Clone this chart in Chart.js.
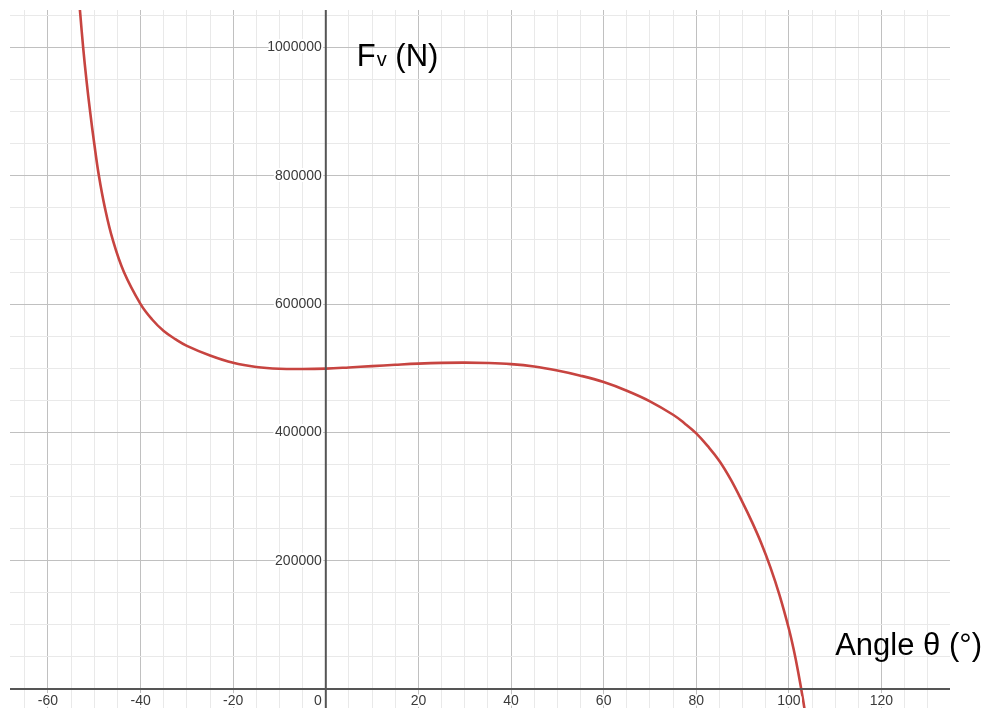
<!DOCTYPE html>
<html>
<head>
<meta charset="utf-8">
<script src="https://cdn.jsdelivr.net/npm/chart.js@4.4.1/dist/chart.umd.min.js"></script>
<style>
  html, body { margin: 0; padding: 0; background: #fff; }
  #wrap { width: 990px; height: 708px; }
</style>
</head>
<body>
<div id="wrap"><canvas id="fv" width="990" height="708"></canvas></div>
<script>
// curve: angle (deg) -> Fv (N)
const angles = [-53.6, -53.0, -52.4, -51.7, -50.9, -50.0, -49.0, -47.7, -46.0, -43.6,
  -40, -37.5, -35, -32.5, -30, -25, -20, -15, -10, -5, 0, 5, 10, 15, 20, 25, 30, 35, 40, 45,
  50, 55, 60, 65, 70, 75, 77.5, 80, 82.5, 85, 87.5, 90, 92, 94, 96, 98, 100, 101, 102, 103, 104];
const forces = [1100000, 1050000, 1000000, 950000, 900000, 850000, 800000, 750000, 700000, 650000,
  600000, 576000, 558000, 545500, 535000, 520000, 508500, 502000, 499200, 498800, 499500, 501300, 503400, 505400, 507200, 508400, 508800, 508200, 506400, 502700,
  496500, 488500, 478500, 465000, 448500, 427500, 414000, 398500, 378500, 355500, 326000, 291000, 261000, 228000, 190000, 146000, 94000, 63000, 27000, -14000, -60000];

const xTickLabels = [-60, -40, -20, 0, 20, 40, 60, 80, 100, 120];
const yTickLabels = [200000, 400000, 600000, 800000, 1000000];

const xRange = [-68.2, 134.8];
const yRange = [-29600, 1058500];
const xMinor = 5, xMajor = 20;
const yMinor = 50000, yMajor = 200000;

const points = angles.map((a, i) => ({ x: a, y: forces[i] }));

function stepTicks(scale, step) {
  const list = [];
  const start = Math.ceil(scale.min / step) * step;
  for (let v = start; v <= scale.max; v += step) list.push({ value: v });
  scale.ticks = list;
}

function gridColor(major) {
  return (ctx) => {
    const v = ctx.tick ? ctx.tick.value : 1;
    if (v === 0) return 'rgba(0,0,0,0)';
    return Math.abs(v % major) < 1e-6 ? '#c0c0c0' : '#e9e9e9';
  };
}

function haloText(c, txt, x, y) {
  c.strokeStyle = '#fff';
  c.lineWidth = 4;
  c.strokeText(txt, x, y);
  c.fillStyle = '#3a3a3a';
  c.fillText(txt, x, y);
}

const axesPlugin = {
  id: 'desmosAxes',
  afterDatasetsDraw(chart) {
    const c = chart.ctx;
    const xs = chart.scales.x, ys = chart.scales.y;
    const area = chart.chartArea;
    const x0 = xs.getPixelForValue(0);
    const y0 = ys.getPixelForValue(0);

    c.save();
    c.strokeStyle = '#555';
    c.lineWidth = 2;
    c.beginPath();
    c.moveTo(x0, area.top); c.lineTo(x0, area.bottom);
    c.moveTo(area.left, y0); c.lineTo(area.right, y0);
    c.stroke();

    c.font = '14px "Liberation Sans", Arial, sans-serif';
    c.lineJoin = 'round';
    c.textBaseline = 'middle';
    xTickLabels.forEach(v => {
      const px = xs.getPixelForValue(v);
      c.textAlign = v === 0 ? 'right' : 'center';
      haloText(c, String(v), v === 0 ? px - 4 : px, y0 + 12);
    });
    c.textAlign = 'right';
    yTickLabels.forEach(v => {
      haloText(c, String(v), x0 - 4, ys.getPixelForValue(v));
    });

    // axis titles
    c.fillStyle = '#000';
    c.textBaseline = 'alphabetic';
    c.textAlign = 'left';
    const big = '31px "Liberation Sans", Arial, sans-serif';
    const small = '20px "Liberation Sans", Arial, sans-serif';
    let tx = x0 + 31;
    const ty = ys.getPixelForValue(1000000) + 18;
    c.font = big; c.fillText('F', tx, ty); tx += c.measureText('F').width + 1;
    c.font = small; c.fillText('v', tx, ty); tx += c.measureText('v').width;
    c.font = big; c.fillText(' (N)', tx, ty);

    c.font = big;
    c.fillText('Angle θ (°)', xs.getPixelForValue(110), y0 - 34);
    c.restore();
  }
};

new Chart(document.getElementById('fv'), {
  type: 'scatter',
  data: {
    datasets: [{
      label: 'Fv',
      data: points,
      showLine: true,
      borderColor: '#c74440',
      borderWidth: 2.6,
      pointRadius: 0,
      tension: 0.4,
      fill: false
    }]
  },
  options: {
    responsive: false,
    animation: false,
    layout: { padding: { left: 10, top: 10, right: 40, bottom: 0 } },
    plugins: { legend: { display: false }, tooltip: { enabled: false } },
    scales: {
      x: {
        type: 'linear', min: xRange[0], max: xRange[1],
        afterBuildTicks: (s) => stepTicks(s, xMinor),
        ticks: { display: false },
        border: { display: false },
        grid: { drawTicks: false, color: gridColor(xMajor), lineWidth: 1 }
      },
      y: {
        type: 'linear', min: yRange[0], max: yRange[1],
        afterBuildTicks: (s) => stepTicks(s, yMinor),
        ticks: { display: false },
        border: { display: false },
        grid: { drawTicks: false, color: gridColor(yMajor), lineWidth: 1 }
      }
    }
  },
  plugins: [axesPlugin]
});
</script>
</body>
</html>
